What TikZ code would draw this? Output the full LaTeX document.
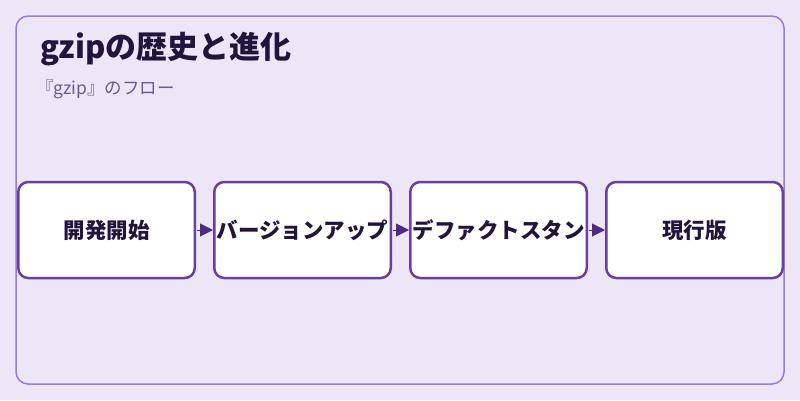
\documentclass[tikz,border=0pt]{standalone}
\usepackage{fontspec}
\setmainfont{Noto Sans CJK JP}
\usetikzlibrary{positioning,arrows.meta}
\definecolor{bgpurple}{HTML}{EDE6F6}
\definecolor{frameline}{HTML}{9B7BCF}
\definecolor{boxline}{HTML}{6A3FA3}
\definecolor{arrowpurple}{HTML}{4E2A82}
\definecolor{textdark}{HTML}{22143A}
\definecolor{subgray}{HTML}{6C5C8E}
\tikzset{% styles of the flow
	flowbox/.style={draw=boxline, line width=2.5pt, fill=white, rounded corners=10pt,
		text width=176.5pt, align=center, minimum height=96pt, inner sep=0pt, text=textdark,
		font=\bfseries\fontsize{21.5}{26}\selectfont},
	flowarrow/.style={draw=arrowpurple, line width=1pt, shorten <=1pt, -{Triangle[length=13pt,width=13pt]}}
}
\begin{document}
\begin{tikzpicture}[x=1pt,y=-1pt]
\useasboundingbox (0,0) rectangle (800,400);
\fill[bgpurple] (0,0) rectangle (800,400);
\draw[frameline, line width=1.5pt, rounded corners=12pt] (16,16) rectangle (784,384);
\node[anchor=base west, text=textdark, font=\bfseries\fontsize{31}{36}\selectfont, inner sep=0pt] (title) at (40,58) {gzipの歴史と進化};
\node[anchor=base west, text=subgray, font=\fontsize{17.5}{20}\selectfont, inner sep=0pt] (subtitle) at (36,94) {『gzip』のフロー};
\node[flowbox] (fl1) at (106.5,230) {開発開始};
\node[flowbox, right=17pt of fl1] (fl2) {バージョンアップ};
\node[flowbox, right=17pt of fl2] (fl3) {デファクトスタン};
\node[flowbox, right=17pt of fl3] (fl4) {現行版};
\draw[flowarrow] (fl1) -- (fl2);
\draw[flowarrow] (fl2) -- (fl3);
\draw[flowarrow] (fl3) -- (fl4);
\end{tikzpicture}
\end{document}
